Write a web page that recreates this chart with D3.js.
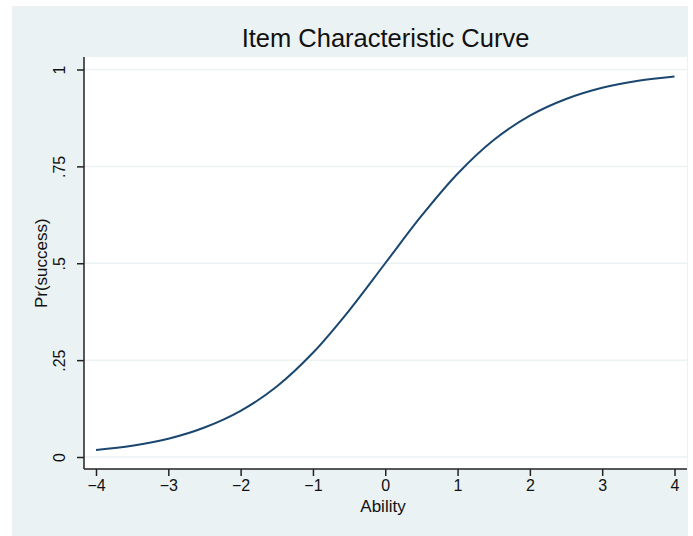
<!DOCTYPE html>
<html>
<head>
<meta charset="utf-8">
<script src="https://cdn.jsdelivr.net/npm/d3@7"></script>
<style>
  body { margin: 0; background: #fff; }
  text { font-family: "Liberation Sans", Arial, sans-serif; fill: #111; }
</style>
</head>
<body>
<svg id="chart" width="693" height="536"></svg>
<script>
// values
const abilities = [-4, -3.5, -3, -2.5, -2, -1.5, -1, -0.5, 0, 0.5, 1, 1.5, 2, 2.5, 3, 3.5, 4];
const probs = [0.018, 0.029, 0.047, 0.076, 0.119, 0.182, 0.269, 0.378, 0.5,
  0.622, 0.731, 0.818, 0.881, 0.924, 0.953, 0.971, 0.982];
const xTicks = [-4, -3, -2, -1, 0, 1, 2, 3, 4];
const yTicks = [0, 0.25, 0.5, 0.75, 1];
const yTickLabels = ["0", ".25", ".5", ".75", "1"];

const BG = "#eaf2f3";
const LINE = "#1a476f";

const svg = d3.select("#chart");

svg.append("rect")
  .attr("x", 12).attr("y", 6)
  .attr("width", 676).attr("height", 530)
  .attr("fill", BG);

const plot = { left: 84, right: 687, top: 57, bottom: 469 };

svg.append("rect")
  .attr("x", plot.left).attr("y", plot.top)
  .attr("width", plot.right - plot.left).attr("height", plot.bottom - plot.top)
  .attr("fill", "#fff");

const x = d3.scaleLinear().domain([-4, 4]).range([96, 674.5]);
const y = d3.scaleLinear().domain([0, 1]).range([457, 69.5]);

// gridlines
svg.append("g")
  .selectAll("line")
  .data(yTicks)
  .join("line")
  .attr("x1", plot.left).attr("x2", plot.right)
  .attr("y1", (d) => y(d)).attr("y2", (d) => y(d))
  .attr("stroke", BG)
  .attr("stroke-width", 1.5);

// curve
const points = abilities.map((a, i) => [a, probs[i]]);
svg.append("path")
  .datum(points)
  .attr("fill", "none")
  .attr("stroke", LINE)
  .attr("stroke-width", 2)
  .attr("d", d3.line()
    .x((d) => x(d[0]))
    .y((d) => y(d[1]))
    .curve(d3.curveCatmullRom));

// x axis
const xAxis = svg.append("g")
  .attr("transform", `translate(0,${plot.bottom})`)
  .call(d3.axisBottom(x)
    .tickValues(xTicks)
    .tickSize(7)
    .tickPadding(4)
    .tickFormat((d) => (d < 0 ? "\u2212" + Math.abs(d) : d)));

// y axis
const yAxis = svg.append("g")
  .attr("transform", `translate(${plot.left},0)`)
  .call(d3.axisLeft(y)
    .tickValues(yTicks)
    .tickSize(7)
    .tickFormat((d, i) => yTickLabels[i]));

[xAxis, yAxis].forEach((g) => {
  g.select(".domain").remove();
  g.selectAll(".tick line").attr("stroke", "#222").attr("stroke-width", 1.5);
  g.selectAll(".tick text").style("font-size", "16px").attr("fill", "#111");
});

yAxis.selectAll(".tick text")
  .attr("x", null).attr("dy", null)
  .attr("text-anchor", "middle")
  .attr("transform", "translate(-19,0) rotate(-90)");

// axis lines
svg.append("line")
  .attr("x1", plot.left).attr("x2", plot.left)
  .attr("y1", plot.top).attr("y2", plot.bottom)
  .attr("stroke", "#222").attr("stroke-width", 1.5);
svg.append("line")
  .attr("x1", plot.left).attr("x2", plot.right)
  .attr("y1", plot.bottom).attr("y2", plot.bottom)
  .attr("stroke", "#222").attr("stroke-width", 1.5);

// titles
svg.append("text")
  .attr("x", (plot.left + plot.right) / 2)
  .attr("y", 46.5)
  .attr("text-anchor", "middle")
  .style("font-size", "25.5px")
  .text("Item Characteristic Curve");

svg.append("text")
  .attr("x", 383)
  .attr("y", 512)
  .attr("text-anchor", "middle")
  .style("font-size", "17px")
  .text("Ability");

svg.append("text")
  .attr("transform", `translate(47,${y(0.5)}) rotate(-90)`)
  .attr("text-anchor", "middle")
  .style("font-size", "17px")
  .text("Pr(success)");
</script>
</body>
</html>
